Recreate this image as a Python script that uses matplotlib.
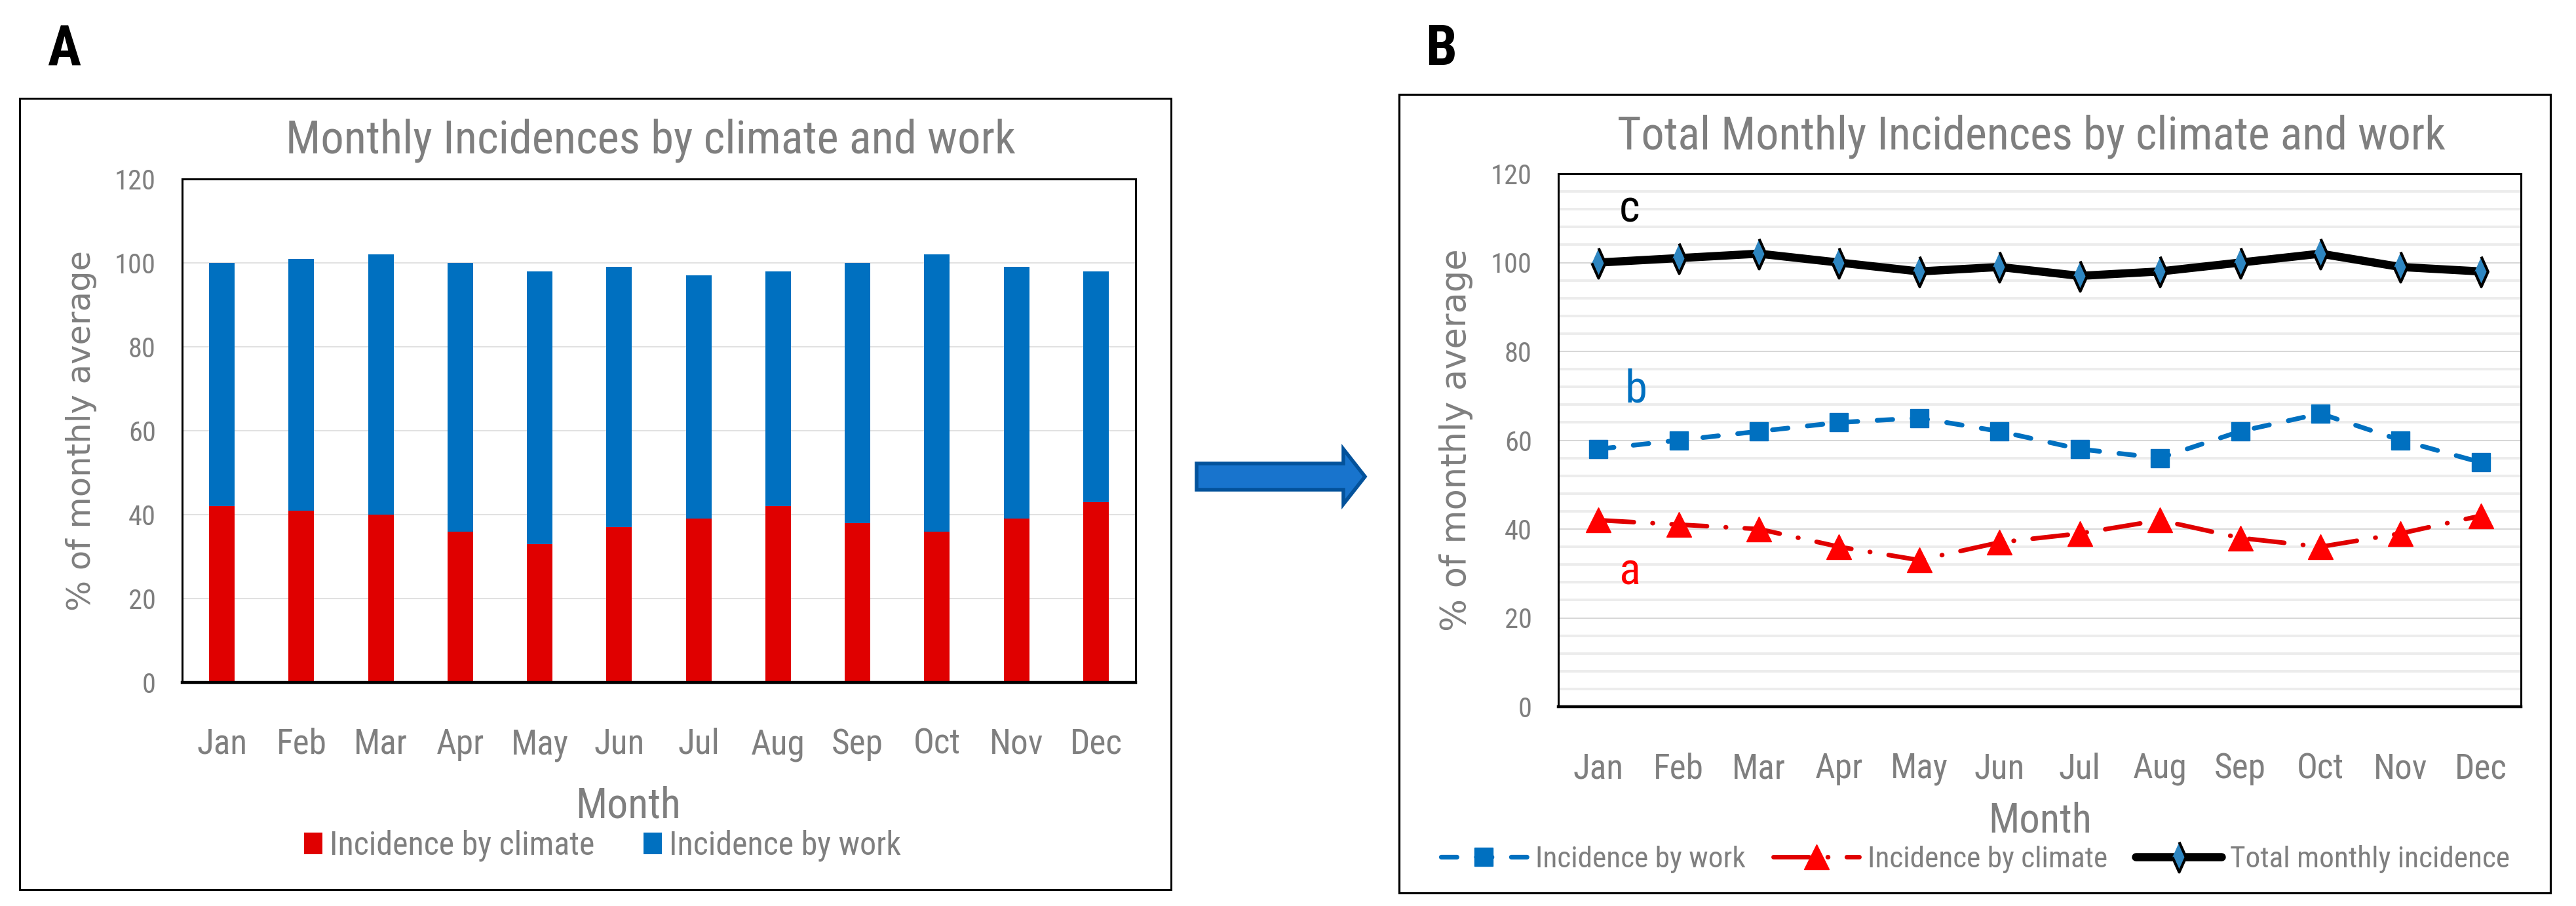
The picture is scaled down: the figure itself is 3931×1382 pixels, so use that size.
import matplotlib
matplotlib.use('Agg')
import matplotlib.pyplot as plt
import numpy as np
from matplotlib import font_manager as fm
from matplotlib.patches import Rectangle, Polygon

# ---------------- data ----------------
months = ['Jan', 'Feb', 'Mar', 'Apr', 'May', 'Jun', 'Jul', 'Aug', 'Sep', 'Oct', 'Nov', 'Dec']
climate = [42, 41, 40, 36, 33, 37, 39, 42, 38, 36, 39, 43]
work = [58, 60, 62, 64, 65, 62, 58, 56, 62, 66, 60, 55]
total = [100, 101, 102, 100, 98, 99, 97, 98, 100, 102, 99, 98]
y_ticks = [0, 20, 40, 60, 80, 100, 120]

title_a = 'Monthly Incidences by climate and work'
title_b = 'Total Monthly Incidences by climate and work'
ylabel_txt = '% of monthly average'
xlabel_txt = 'Month'
legend_a = ['Incidence by climate', 'Incidence by work']
legend_b = ['Incidence by work', 'Incidence by climate', 'Total monthly incidence']

# ---------------- fonts ----------------
names = {f.name for f in fm.fontManager.ttflist}
F = 'Liberation Sans'
NARROW = False
for cand in ['Liberation Sans Narrow', 'Arial Narrow', 'Roboto Condensed',
             'Open Sans Condensed', 'Noto Sans Display Condensed']:
    if cand in names:
        F = cand
        NARROW = True
        break
if F not in names:
    F = 'DejaVu Sans'
FY = 'DejaVu Sans'
GRAY = '#7f7f7f'
RED = '#E00000'
BLUE = '#0070C0'

W, H = 3931, 1382
fig = plt.figure(figsize=(W / 100, H / 100), dpi=100)
fig.patch.set_facecolor('white')
rend = fig.canvas.get_renderer()


def fx(px):
    return px / W


def fy(py):
    return 1 - py / H


def fit(s, target, family, weight='normal'):
    t = fig.text(0, 0, s, fontsize=100, family=family, weight=weight)
    w = t.get_window_extent(renderer=rend).width
    t.remove()
    return 100 * target / w


grow = 1.0 if NARROW else 1.06
xs = fit('Jan', 77, F) * grow
ys = fit('120', 63, F) * grow
tA = fit(title_a, 1114, F)
tB = fit(title_b, 1265, F)
mA = fit('Month', 161, F) * grow
mB = fit('Month', 158, F) * grow
lA = fit('Incidence by climate', 405, F)
lB = fit('Total monthly incidence', 427, F)
pl = fit('A', 51, F, 'bold') * grow
yA = fit(ylabel_txt, 550, FY)
yB = fit(ylabel_txt, 584, FY)
let = fit('b', 26, F) * 1.3

x = np.arange(len(months))

# ---------------- panel frames ----------------
fig.add_artist(Rectangle((fx(30), fy(1357)), (1787 - 30) / W, (1357 - 150) / H,
                         fill=False, lw=2.1, ec='black', transform=fig.transFigure))
fig.add_artist(Rectangle((fx(2135), fy(1362)), (3892 - 2135) / W, (1362 - 144) / H,
                         fill=False, lw=2.3, ec='black', transform=fig.transFigure))

fig.text(fx(98), fy(99), 'A', ha='center', va='baseline', fontsize=pl,
         family=F, weight='bold', color='black')
fig.text(fx(2199), fy(99), 'B', ha='center', va='baseline', fontsize=pl,
         family=F, weight='bold', color='black')

# arrow
arrow_pts = [(1826, 707), (2050, 707), (2050, 685), (2083, 727), (2050, 769),
             (2050, 747), (1826, 747)]
fig.add_artist(Polygon([(fx(a), fy(b)) for a, b in arrow_pts], closed=True,
                       fc='#1874CD', ec='#03529B', lw=4, joinstyle='miter',
                       transform=fig.transFigure))


def style_axes(ax, ysize, xlabel_xy, ylabel_x, msize):
    ax.set_xlim(-0.5, 11.5)
    ax.set_ylim(0, 120)
    ax.set_xticks(x)
    ax.set_xticklabels(months, fontsize=xs, color=GRAY, family=F, va='baseline')
    ax.set_yticks(y_ticks)
    ax.set_yticklabels([str(v) for v in y_ticks], fontsize=ys, color=GRAY, family=F)
    ax.tick_params(axis='x', length=0, pad=109 * 0.72)
    ax.tick_params(axis='y', length=0, pad=40 * 0.72)
    for s in ['top', 'left', 'right']:
        ax.spines[s].set_linewidth(2.2)
        ax.spines[s].set_color('black')
    ax.spines['bottom'].set_linewidth(3.2)
    ax.spines['bottom'].set_color('black')
    ax.set_xlabel(xlabel_txt, fontsize=msize, color=GRAY, family=F, va='baseline')
    ax.xaxis.set_label_coords(*xlabel_xy)
    ax.set_ylabel(ylabel_txt, fontsize=ysize, color=GRAY, family=FY,
                  va='center', ha='center')
    ax.yaxis.set_label_coords(ylabel_x, 0.5)
    ax.set_axisbelow(True)


# ---------------- panel A ----------------
axA = fig.add_axes([fx(278), fy(1041), (1733 - 278) / W, (1041 - 273) / H])
bc = axA.bar(x, climate, width=0.32, color=RED, label=legend_a[0], zorder=2)
bw = axA.bar(x, work, bottom=climate, width=0.32, color=BLUE, label=legend_a[1], zorder=2)
axA.yaxis.grid(True, color='#d9d9d9', lw=1.1)
style_axes(axA, yA, ((959 - 278) / 1455, (1041 - 1248) / 768),
           (124 - 278) / 1455, mA)
fig.text(fx(993), fy(234), title_a, ha='center', va='baseline', fontsize=tA,
         color=GRAY, family=F)

emA = lA * 100 / 72
axA.legend([bc, bw], legend_a, loc='center', bbox_to_anchor=(fx(919.5), fy(1290)),
           bbox_transform=fig.transFigure, ncol=2, frameon=False,
           prop={'family': F, 'size': lA}, labelcolor=GRAY,
           handlelength=28 / emA, handleheight=32 / emA, handletextpad=11 / emA,
           columnspacing=74 / emA, borderpad=0, borderaxespad=0)

# ---------------- panel B ----------------
axB = fig.add_axes([fx(2378), fy(1078), (3847 - 2378) / W, (1078 - 265) / H])
axB.set_yticks(np.arange(0, 121, 4), minor=True)
axB.yaxis.grid(True, which='minor', color='#ececec', lw=2.8)
axB.yaxis.grid(True, which='major', color='#cccccc', lw=1.1)
axB.tick_params(axis='y', which='minor', length=0)

l_work, = axB.plot(x, work, color=BLUE, lw=5.2, linestyle=(0, (3.3, 4.1)),
                   dash_capstyle='round', marker='s', ms=20, mfc=BLUE, mec=BLUE,
                   zorder=3)
l_clim, = axB.plot(x, climate, color=RED, lw=5,
                   linestyle=(0, (7.8, 4.1, 0.1, 4.1)), dash_capstyle='round',
                   marker='^', ms=28, mfc='#FF0000', mec='#FF0000', zorder=3)
diamond = [(0, 1), (0.45, 0), (0, -1), (-0.45, 0)]
l_tot, = axB.plot(x, total, color='black', lw=9, solid_joinstyle='round',
                  solid_capstyle='round', marker=diamond, ms=33, mfc='#2E86C1',
                  mec='black', mew=3, zorder=4)

style_axes(axB, yB, ((3113 - 2378) / 1469, (1078 - 1269) / 813),
           (2222 - 2378) / 1469, mB)
fig.text(fx(3100), fy(228), title_b, ha='center', va='baseline', fontsize=tB,
         color=GRAY, family=F)

axB.text(0.39, 109.1, 'c', color='black', fontsize=let, family=F,
         ha='center', va='baseline')
axB.text(0.47, 68.6, 'b', color=BLUE, fontsize=let, family=F,
         ha='center', va='baseline')
axB.text(0.39, 27.6, 'a', color='#FF0000', fontsize=let, family=F,
         ha='center', va='baseline')

emB = lB * 100 / 72
axB.legend([l_work, l_clim, l_tot], legend_b, loc='center',
           bbox_to_anchor=(fx(3014.5), fy(1310)), bbox_transform=fig.transFigure,
           ncol=3, frameon=False, prop={'family': F, 'size': lB}, labelcolor=GRAY,
           handlelength=131 / emB, handletextpad=13 / emB, columnspacing=43 / emB,
           numpoints=1, borderpad=0, borderaxespad=0)

fig.savefig('out.png', dpi=100, facecolor='white')
